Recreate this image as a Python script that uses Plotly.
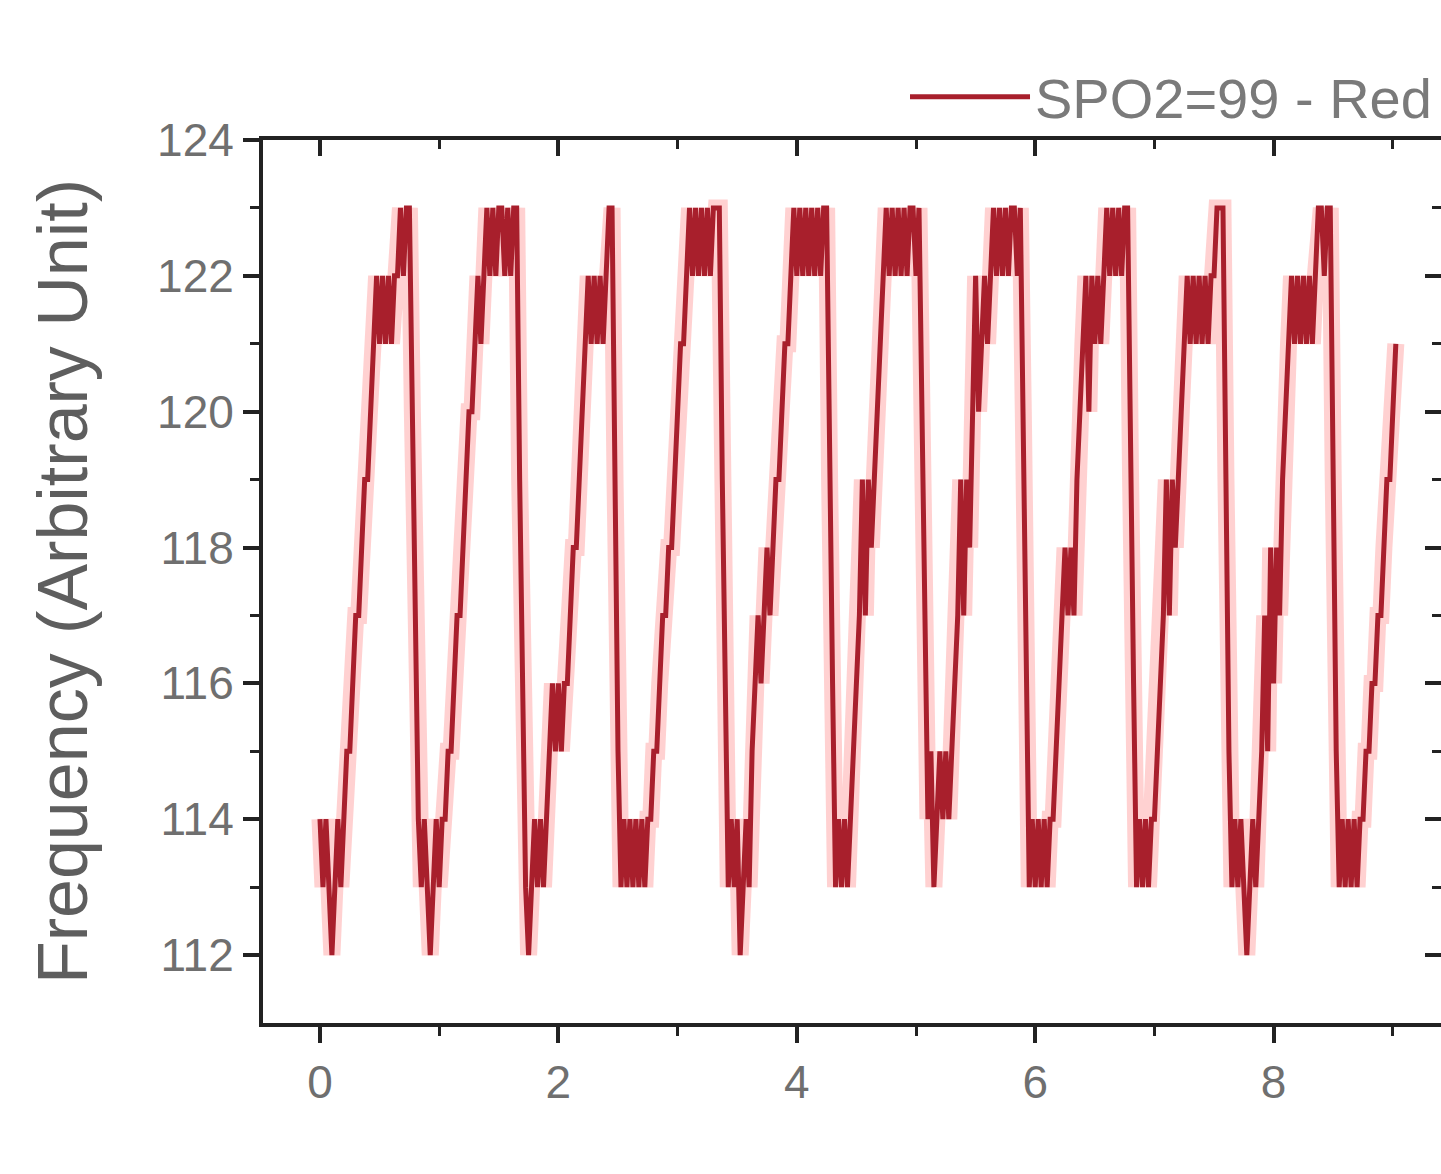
import numpy as np
import plotly.graph_objects as go

# Sampled frequency readout (integer levels), one list per oscillation cycle
SAMPLE_PERIOD = 0.025

cycle_01 = [114, 113, 114, 113, 112, 113, 114, 113, 114,
            115, 115, 116, 117, 117, 118, 119, 119, 120, 121, 122,
            121, 122, 121, 122, 121, 122, 122,
            123, 122, 123, 123,
            120, 117, 114]
cycle_02 = [113, 114, 113, 112, 113, 114, 113, 114,
            114, 115, 115, 116, 117, 117, 118, 119, 120, 120, 121, 122,
            121, 122, 123, 122, 123, 122, 123, 123, 122, 123, 122, 123, 123,
            119, 116]
cycle_03 = [113, 112, 113, 114, 113, 114, 113, 114,
            115, 116, 115, 116, 115, 116, 116,
            117, 118, 118, 119, 120, 121,
            122, 121, 122, 121, 122, 121, 122,
            123, 123,
            119, 115]
cycle_04 = [113, 114, 113, 114, 113, 114, 113, 114, 113, 114, 114,
            115, 115, 116, 117, 117, 118, 118, 119, 120, 121, 121, 122,
            123, 122, 123, 122, 123, 122, 123, 122, 123, 123, 123,
            119, 116]
cycle_05 = [113, 114, 113, 114, 112, 113, 114, 113,
            115, 116, 117, 116, 117, 118, 117, 118,
            119, 119, 120, 121, 121, 122,
            123, 122, 123, 122, 123, 122, 123, 122, 123, 122, 123, 123,
            119, 116]
cycle_06 = [113, 114, 113, 114, 113,
            114, 115, 116,
            117, 119, 117, 119, 118,
            119, 120, 121, 122,
            123, 122, 123, 122, 123, 122, 123, 122, 123, 123, 122, 123,
            120, 117]
cycle_07 = [114, 115, 113, 114, 115, 114, 115, 114, 115,
            116, 117, 119, 117, 119, 118,
            120, 122, 120, 121, 122, 121, 122,
            123, 122, 123, 122, 123, 122, 123, 123, 122, 123,
            120, 116]
cycle_08 = [113, 114, 113, 114, 113, 114, 113, 114, 114,
            115, 116, 117, 118, 117, 118, 117,
            119, 120, 121,
            122, 120, 122, 121, 122, 121, 122,
            123, 122, 123, 122, 123, 122, 123, 123,
            119, 116]
cycle_09 = [113, 114, 113, 114, 113, 114, 114,
            115, 116, 117, 119, 117, 119, 118, 119, 120,
            121, 122, 121, 122, 121, 122, 121, 122, 121, 122, 122,
            123, 123, 123,
            119, 115]
cycle_10 = [113, 114, 113, 114, 113, 112, 113, 114, 113, 114,
            115, 117, 115, 118, 116, 118, 117,
            119, 120, 121,
            122, 121, 122, 121, 122, 121, 122, 121, 122,
            123, 123, 122, 123, 123,
            119, 115]
cycle_11 = [113, 114, 113, 114, 113, 114, 113, 114,
            114, 115, 115, 116, 116, 117, 117, 118, 119, 119, 120, 121]

cycles = [cycle_01, cycle_02, cycle_03, cycle_04, cycle_05, cycle_06,
          cycle_07, cycle_08, cycle_09, cycle_10, cycle_11]
freq = [v for c in cycles for v in c]
time = np.arange(len(freq)) * SAMPLE_PERIOD

series_name = "SPO2=99 - Red"

x_range = [-0.478, 9.404]
y_range = [111, 124]
x_major = [0, 2, 4, 6, 8]
x_minor = [1, 3, 5, 7, 9]
y_major = [112, 114, 116, 118, 120, 122, 124]
y_minor = [113, 115, 117, 119, 121, 123]

AXIS = "#222222"
LABEL = "#6f6f6f"
FONT = "Liberation Sans, Arial, sans-serif"

fig = go.Figure()

# soft glow under the trace
fig.add_trace(go.Scatter(
    x=time, y=freq, mode="lines",
    line=dict(color="rgba(255,70,70,0.25)", width=17),
    showlegend=False, hoverinfo="skip"))

fig.add_trace(go.Scatter(
    x=time, y=freq, mode="lines", name=series_name,
    line=dict(color="#a81f2c", width=5)))

# carrier for the mirrored top/right axes
fig.add_trace(go.Scatter(x=[None], y=[None], xaxis="x2", yaxis="y2",
                         showlegend=False, hoverinfo="skip"))

common_x = dict(range=x_range, showgrid=False, zeroline=False,
                showline=True, linecolor=AXIS, linewidth=4,
                tickvals=x_major, ticklen=16, tickwidth=4, tickcolor=AXIS)
common_y = dict(range=y_range, showgrid=False, zeroline=False,
                showline=True, linecolor=AXIS, linewidth=4,
                tickvals=y_major, ticklen=16, tickwidth=4, tickcolor=AXIS)

fig.update_layout(
    width=1441, height=1174,
    margin=dict(l=263, r=0, t=140, b=151),
    paper_bgcolor="white", plot_bgcolor="white",
    font=dict(family=FONT, color=LABEL),
    xaxis=dict(**common_x, ticks="outside",
               ticktext=[str(v) for v in x_major],
               tickfont=dict(size=46, color=LABEL),
               minor=dict(tickvals=x_minor, ticks="outside", ticklen=9,
                          tickwidth=3, tickcolor=AXIS)),
    yaxis=dict(**common_y, ticks="outside",
               tickfont=dict(size=46, color=LABEL),
               title=dict(text="Frequency (Arbitrary Unit)",
                          font=dict(size=70, color="#5e5e5e"), standoff=48),
               minor=dict(tickvals=y_minor, ticks="outside", ticklen=9,
                          tickwidth=3, tickcolor=AXIS)),
    xaxis2=dict(**common_x, overlaying="x", side="top", anchor="y2",
                ticks="inside", showticklabels=False,
                minor=dict(tickvals=x_minor, ticks="inside", ticklen=9,
                           tickwidth=3, tickcolor=AXIS)),
    yaxis2=dict(**common_y, overlaying="y", side="right", anchor="x2",
                ticks="inside", showticklabels=False,
                minor=dict(tickvals=y_minor, ticks="inside", ticklen=9,
                           tickwidth=3, tickcolor=AXIS)),
    legend=dict(x=0.545, y=1.049, xanchor="left", yanchor="middle",
                bgcolor="rgba(0,0,0,0)", itemwidth=120,
                font=dict(size=56, color="#7a7a7a", family=FONT)),
    showlegend=True,
)

fig.write_html("out.html")
